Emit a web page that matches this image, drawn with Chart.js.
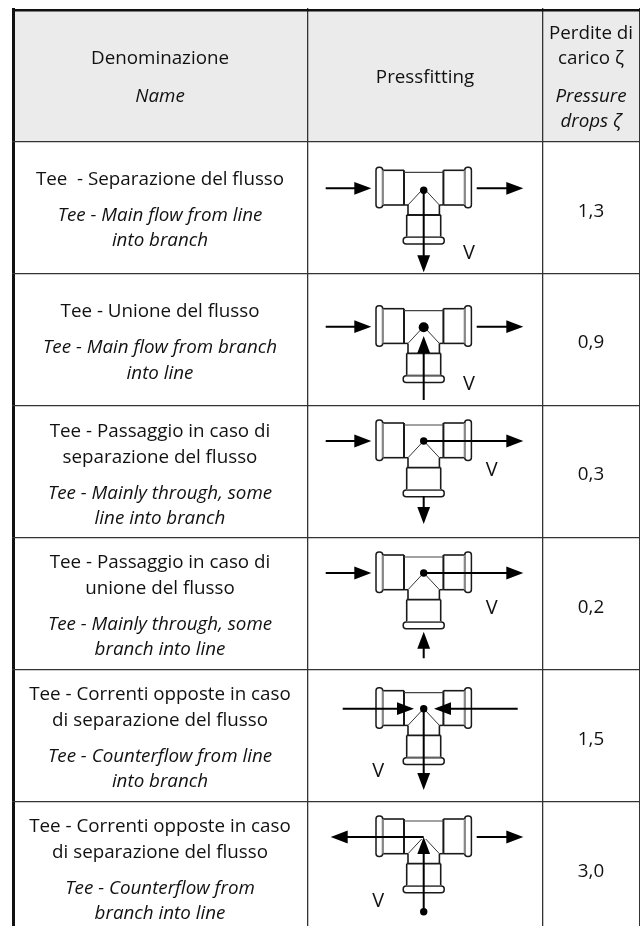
<!DOCTYPE html>
<html lang="it">
<head>
<meta charset="utf-8">
<title>Perdite di carico</title>
<script src="https://cdn.jsdelivr.net/npm/chart.js@4"></script>
<style>
  html, body { margin: 0; padding: 0; background: #fff; }
  canvas { display: block; }
</style>
</head>
<body>
<canvas id="tabella" width="640" height="926"></canvas>
<script>
// dati della tabella
const nameIt = [
  ['Tee  - Separazione del flusso'],
  ['Tee - Unione del flusso'],
  ['Tee - Passaggio in caso di', 'separazione del flusso'],
  ['Tee - Passaggio in caso di', 'unione del flusso'],
  ['Tee - Correnti opposte in caso', 'di separazione del flusso'],
  ['Tee - Correnti opposte in caso', 'di separazione del flusso']
];
const nameEn = [
  ['Tee - Main flow from line', 'into branch'],
  ['Tee - Main flow from branch', 'into line'],
  ['Tee - Mainly through, some', 'line into branch'],
  ['Tee - Mainly through, some', 'branch into line'],
  ['Tee - Counterflow from line', 'into branch'],
  ['Tee - Counterflow from', 'branch into line']
];
const zeta = [1.3, 0.9, 0.3, 0.2, 1.5, 3.0];

// frecce di ogni riga, in px dal centro del raccordo: [x1, y1, x2, y2] con punta in x2,y2
const flows = [
  [[-98, 0, -52.4, 0], [53, 0, 99.6, 0], [0, 2, 0, 84]],
  [[-98, 0, -52.4, 0], [53, 0, 99.6, 0], [0, 73.3, 0, 9.3]],
  [[-98, 0, -52.4, 0], [0, 0, 99.6, 0], [0, 55, 0, 83]],
  [[-98, 0, -52.4, 0], [0, 0, 99.6, 0], [0, 85.3, 0, 58.7]],
  [[-81, 0, -9.7, 0], [94, 0, 10.3, 0], [0, 0, 0, 81.3]],
  [[0, 0, -93, 0], [53, 0, 99.6, 0], [0, 74.7, 0, 0]]
];
const dots = [[0, 2, 3.7], [0, 0.6, 5], [0, 0, 3.7], [0, 0, 3.7], [0, 0, 3.7], [0, 74.7, 3.7]];
const vLabels = [[45.3, 70.5], [45.3, 63.3], [68, 35], [68, 41], [-45.4, 68.5], [-45.4, 69.7]];

// griglia
const colEdges = [13.5, 307.5, 542.5, 639.4];
const rowEdges = [10, 141.5, 273.5, 405.5, 537.5, 669.5, 802];
const fittingX = 423.7;
const fittingY = [188.3, 326.7, 441, 573, 708.7, 837];
const valueBase = [216.7, 348.3, 480, 612.7, 744.7, 877];
const nameBase = [185, 317.3, 436.7, 567.7, 700, 831.7];

const FONT = '"Open Sans"';
const nameSize = 18.8;
const vSize = 20;

function shaftPoints() {
  const pts = [];
  flows.forEach((row, i) => {
    row.forEach(f => {
      // la linea si ferma dentro la punta
      const dx = Math.sign(f[2] - f[0]);
      const dy = Math.sign(f[3] - f[1]);
      pts.push({ x: fittingX + f[0], y: fittingY[i] + f[1] });
      pts.push({ x: fittingX + f[2] - dx * 8, y: fittingY[i] + f[3] - dy * 8 });
      pts.push({ x: null, y: null });
    });
  });
  return pts;
}

function drawFitting(ctx, x, y) {
  ctx.save();
  ctx.translate(x, y);
  ctx.strokeStyle = '#1a1a1a';
  ctx.lineWidth = 1.5;
  const box = (a, b, w, h, r) => {
    ctx.beginPath();
    ctx.roundRect(a, b, w, h, r);
    ctx.stroke();
  };
  const line = (a, b, c, d, lw, col) => {
    ctx.lineWidth = lw;
    ctx.strokeStyle = col;
    ctx.beginPath();
    ctx.moveTo(a, b);
    ctx.lineTo(c, d);
    ctx.stroke();
  };
  box(-47.7, -21, 6.7, 40.5, 3);
  box(41, -21, 6.7, 40.5, 3);
  box(-20.5, 49, 41, 6.7, 3);
  [-1, 1].forEach(s => {
    line(s * 41, -18, s * 19.7, -18, 1.6, '#1a1a1a');
    line(s * 41, 16.7, s * 19.7, 16.7, 1.6, '#1a1a1a');
    line(s * 41, -18, s * 41, 16.7, 1.9, '#888');
    line(s * 19.7, -18, s * 19.7, 16.7, 2, '#1a1a1a');
    line(s * 19.7, 16.7, s * 15.7, 16.7, 1.5, '#1a1a1a');
    line(s * 15.7, 16.7, s * 15.7, 26.7, 1.6, '#1a1a1a');
    line(s * 17, 26.7, s * 17, 48.5, 1.6, '#1a1a1a');
    line(s * 15.7, 16.7, s * 2, 2, 1, '#333');
  });
  line(-19.7, -16, 19.7, -16, 1.2, '#444');
  line(-17, 26.7, 17, 26.7, 1.8, '#1a1a1a');
  line(-17, 48.5, 17, 48.5, 1.2, '#777');
  ctx.restore();
}

function drawHead(ctx, x, y, dx, dy) {
  const len = 17, half = 6.4;
  ctx.beginPath();
  ctx.moveTo(x, y);
  ctx.lineTo(x - dx * len - dy * half, y - dy * len - dx * half);
  ctx.lineTo(x - dx * len + dy * half, y - dy * len + dx * half);
  ctx.closePath();
  ctx.fill();
}

const tablePlugin = {
  id: 'tablePlugin',
  beforeDraw(chart) {
    const { ctx, scales: { x, y } } = chart;
    ctx.save();
    ctx.fillStyle = '#ebebeb';
    ctx.fillRect(x.getPixelForValue(colEdges[0]), y.getPixelForValue(rowEdges[0]),
      x.getPixelForValue(colEdges[3]) - x.getPixelForValue(colEdges[0]),
      y.getPixelForValue(rowEdges[1]) - y.getPixelForValue(rowEdges[0]));
    ctx.restore();
  },
  beforeDatasetsDraw(chart) {
    const { ctx, scales: { x, y } } = chart;
    fittingY.forEach(fy => drawFitting(ctx, x.getPixelForValue(fittingX), y.getPixelForValue(fy)));
  },
  afterDatasetsDraw(chart) {
    const { ctx, scales: { x, y } } = chart;
    ctx.save();
    ctx.fillStyle = '#000';
    flows.forEach((row, i) => {
      row.forEach(f => {
        drawHead(ctx, x.getPixelForValue(fittingX + f[2]), y.getPixelForValue(fittingY[i] + f[3]),
          Math.sign(f[2] - f[0]), Math.sign(f[3] - f[1]));
      });
    });

    const put = (txt, px, py, size, italic) => {
      ctx.font = (italic ? 'italic ' : '') + size + 'px ' + FONT;
      ctx.fillText(txt, x.getPixelForValue(px), y.getPixelForValue(py));
    };
    ctx.fillStyle = '#111';
    ctx.textAlign = 'center';
    ctx.textBaseline = 'alphabetic';

    // intestazione
    put('Denominazione', 160, 64, nameSize);
    put('Name', 160, 102, nameSize, true);
    put('Pressfitting', 425, 83, nameSize);
    put('Perdite di', 591, 39, nameSize);
    put('carico ζ', 591, 64, nameSize);
    put('Pressure', 591, 102, nameSize, true);
    put('drops ζ', 591, 127, nameSize, true);

    // righe
    nameIt.forEach((lines, i) => {
      let base = nameBase[i];
      lines.forEach(t => { put(t, 160, base, nameSize); base += 26; });
      base += 10;
      nameEn[i].forEach(t => { put(t, 160, base, nameSize, true); base += 25.4; });
    });
    zeta.forEach((v, i) => {
      put(v.toLocaleString('it-IT', { minimumFractionDigits: 1 }), 591, valueBase[i], nameSize);
    });
    vLabels.forEach((v, i) => {
      put('V', fittingX + v[0], fittingY[i] + v[1], vSize);
    });
    ctx.restore();
  }
};

new Chart(document.getElementById('tabella'), {
  type: 'scatter',
  data: {
    datasets: [
      {
        label: 'Frecce',
        data: shaftPoints(),
        showLine: true,
        spanGaps: false,
        borderColor: '#000',
        borderWidth: 2,
        pointRadius: 0
      },
      {
        label: 'Punti',
        data: dots.map((d, i) => ({ x: fittingX + d[0], y: fittingY[i] + d[1] })),
        pointRadius: dots.map(d => d[2]),
        pointBackgroundColor: '#000',
        pointBorderWidth: 0
      }
    ]
  },
  options: {
    responsive: false,
    animation: false,
    layout: { autoPadding: false, padding: { left: 12, top: 8, right: 0, bottom: 0 } },
    plugins: { legend: { display: false }, tooltip: { enabled: false } },
    scales: {
      x: {
        type: 'linear',
        min: 12,
        max: 640,
        afterBuildTicks: axis => { axis.ticks = colEdges.map(value => ({ value })); },
        ticks: { display: false },
        border: { display: false },
        grid: {
          drawTicks: false,
          color: ctx => ctx.index === 0 ? '#111' : '#333',
          lineWidth: ctx => ctx.index === 0 ? 3 : 1.3
        }
      },
      y: {
        type: 'linear',
        reverse: true,
        min: 8,
        max: 926,
        afterBuildTicks: axis => { axis.ticks = rowEdges.map(value => ({ value })); },
        ticks: { display: false },
        border: { display: false },
        grid: {
          drawTicks: false,
          color: ctx => ctx.index === 0 ? '#111' : '#333',
          lineWidth: ctx => ctx.index === 0 ? 2.5 : 1.3
        }
      }
    }
  },
  plugins: [tablePlugin]
});
</script>
</body>
</html>
